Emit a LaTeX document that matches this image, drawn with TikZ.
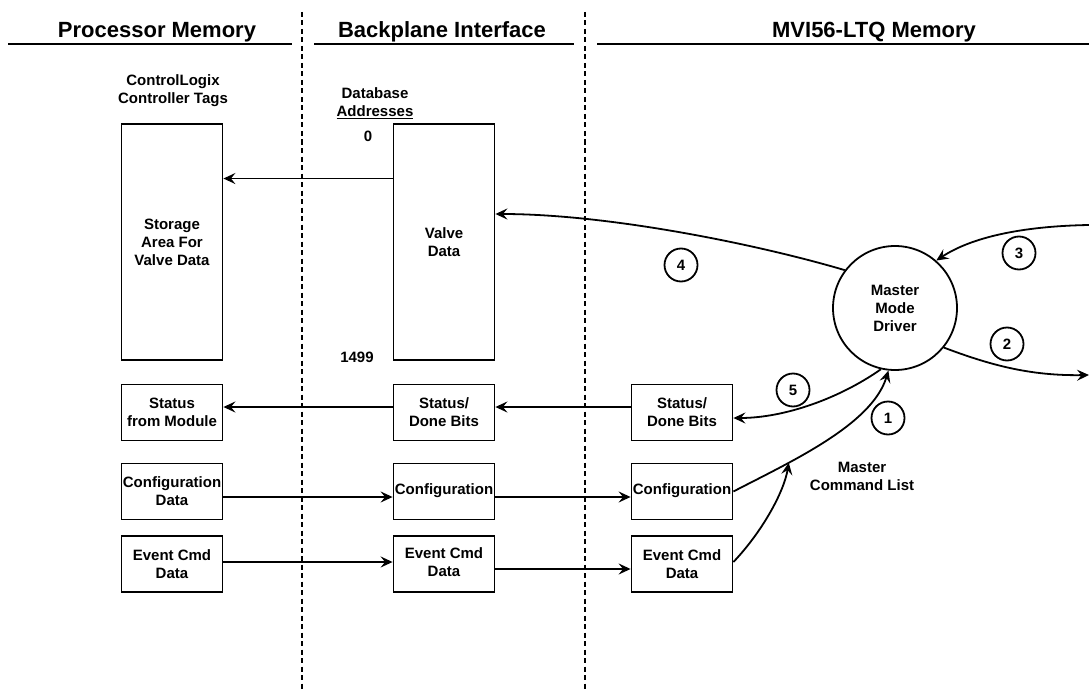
\documentclass[tikz,border=0pt]{standalone}
\usepackage{fontspec}
\setmainfont{Liberation Sans}
\usetikzlibrary{arrows.meta}

\begin{document}
\begin{tikzpicture}[x=1pt,y=-1pt,
    font=\fontsize{15}{18}\selectfont\bfseries,
    line width=1.8pt,
    arr/.style={-{Stealth[length=12pt,width=11pt,inset=4.5pt]}},
    memhead/.style={font=\fontsize{22}{24}\selectfont\bfseries},
    membox/.style={draw,align=center,inner sep=0pt,minimum width=101,minimum height=56},
    step no/.style={draw,circle,inner sep=0pt,minimum size=33}]

        \useasboundingbox (0,0) rectangle (1089,690);

        % column headings
        \node[memhead] (proc) at (157,32) {Processor Memory};
        \node[memhead] (back) at (442,32) {Backplane Interface};
        \node[memhead] (mvi)  at (874,32) {MVI56-LTQ Memory};
        \draw (8,44) -- (292,44);
        \draw (314,44) -- (574,44);
        \draw (597,44) -- (1089,44);
        \draw[line width=2.2pt,dash pattern=on 5pt off 3.5pt] (302,12) -- (302,690);
        \draw[line width=2.2pt,dash pattern=on 5pt off 3.5pt] (585,12) -- (585,690);

        \node[align=center] (tags) at (173,91)  {ControlLogix\\Controller Tags};
        \node[align=center] (addr) at (375,103) {Database\\\underline{Addresses}};
        \node (first) at (368,136) {0};
        \node (last)  at (357,357) {1499};

        \begin{scope}[every node/.style={membox}]
          \node[minimum height=236] (store)  at (172,242)   {Storage\\Area For\\Valve Data};
          \node[minimum height=236] (valve)  at (444,242)   {Valve\\Data};
          \node (status1) at (172,412.5) {Status\\from Module};
          \node (status2) at (444,412.5) {Status/\\Done Bits};
          \node (status3) at (682,412.5) {Status/\\Done Bits};
          \node (config1) at (172,491.5) {Configuration\\Data};
          \node (config2) at (444,491.5) {\raisebox{4pt}{Configuration}};
          \node (config3) at (682,491.5) {\raisebox{4pt}{Configuration}};
          \node (event1)  at (172,564)   {Event Cmd\\Data};
          \node (event2)  at (444,564)   {\raisebox{4pt}{\begin{tabular}{@{}c@{}}Event Cmd\\Data\end{tabular}}};
          \node (event3)  at (682,564)   {Event Cmd\\Data};
        \end{scope}

        \node[draw,circle,align=center,minimum size=124,inner sep=0pt] (driver) at (895,308) {Master\\Mode\\Driver};
        \node[align=center] (cmdlist) at (862,476) {Master\\Command List};

        \begin{scope}[every node/.style={step no}]
          \node (s1) at (888,418)  {1};
          \node (s2) at (1007,344) {2};
          \node (s3) at (1019,253) {3};
          \node (s4) at (681,265)  {4};
          \node (s5) at (793,390)  {5};
        \end{scope}

        \coordinate (in3)  at (1089,225);
        \coordinate (out2) at (1089,375);

        % straight transfers
        \begin{scope}[every edge/.style={draw,arr}]
          \path (valve.129) edge (valve.129 -| store.east);
          \path ([yshift=5.5pt]status2.west) edge ([yshift=5.5pt]status1.east);
          \path ([yshift=5.5pt]status3.west) edge ([yshift=5.5pt]status2.east);
          \path ([yshift=-5.5pt]config1.east) edge ([yshift=-5.5pt]config2.west);
          \path ([yshift=-5.5pt]config2.east) edge ([yshift=-5.5pt]config3.west);
          \path ([yshift=2pt]event1.east) edge ([yshift=2pt]event2.west);
          \path ([yshift=-5pt]event2.east) edge ([yshift=-5pt]event3.west);
        \end{scope}

        % driver connections
        \draw[arr] (driver.143) .. controls (760,245) and (610,214) .. ([yshift=28pt]valve.east);
        \draw[arr] (in3) .. controls (1030,226) and (975,235) .. (driver.49);
        \draw[arr] (driver.321) .. controls (990,365) and (1030,376) .. (out2);
        \draw[arr] (driver.257) .. controls (840,398) and (785,418) .. ([yshift=-5.5pt]status3.east);
        \draw[arr] (config3.east) .. controls (790,462) and (872,425) .. (driver.264)
          coordinate[pos=0.3] (cmdjoin);
        \draw[arr] ([yshift=2pt]event3.east) .. controls (762,532) and (784,492) .. (cmdjoin);

      \end{tikzpicture}
\end{document}
